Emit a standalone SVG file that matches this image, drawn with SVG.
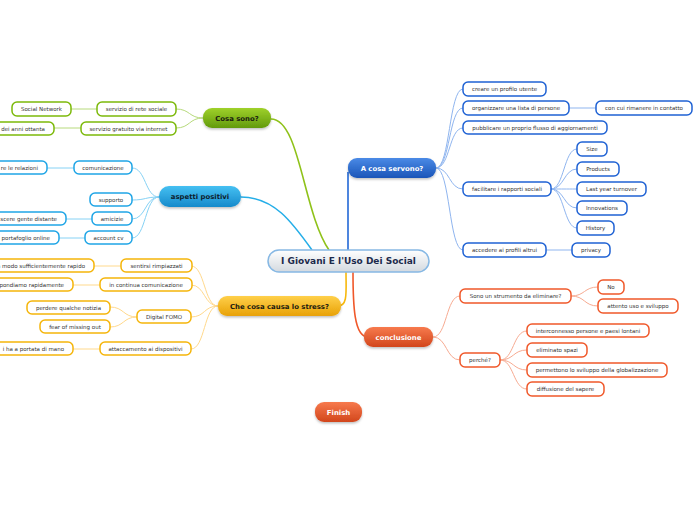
<svg xmlns="http://www.w3.org/2000/svg" width="696" height="520" viewBox="0 0 696 520">
<defs>
<linearGradient id="gC" x1="0" y1="0" x2="0" y2="1"><stop offset="0" stop-color="#ffffff"/><stop offset="1" stop-color="#d3d9df"/></linearGradient>
<linearGradient id="gG" x1="0" y1="0" x2="0" y2="1"><stop offset="0" stop-color="#9fd12a"/><stop offset="1" stop-color="#629a0c"/></linearGradient>
<linearGradient id="gB" x1="0" y1="0" x2="0" y2="1"><stop offset="0" stop-color="#45c0f2"/><stop offset="1" stop-color="#168acb"/></linearGradient>
<linearGradient id="gO" x1="0" y1="0" x2="0" y2="1"><stop offset="0" stop-color="#ffd04a"/><stop offset="1" stop-color="#e8a106"/></linearGradient>
<linearGradient id="gD" x1="0" y1="0" x2="0" y2="1"><stop offset="0" stop-color="#4a8ae6"/><stop offset="1" stop-color="#1a55b8"/></linearGradient>
<linearGradient id="gR" x1="0" y1="0" x2="0" y2="1"><stop offset="0" stop-color="#f77a4e"/><stop offset="1" stop-color="#d2461c"/></linearGradient>
<filter id="sh" x="-20%" y="-30%" width="140%" height="170%"><feDropShadow dx="0" dy="1.5" stdDeviation="1.2" flood-color="#000" flood-opacity="0.25"/></filter>
</defs>
<style>
text{font-family:"DejaVu Sans","Verdana",sans-serif;}
.t{font-size:5.5px;fill:#333;text-anchor:middle;}
.te{font-size:5.5px;fill:#333;text-anchor:end;}
.m{font-size:6.9px;font-weight:bold;text-anchor:middle;}
.dk{fill:#1a1a10;}
.wh{fill:#ffffff;}
.leaf{fill:#ffffff;stroke-width:1.5;}
.lg{stroke:#7cb90a;}
.lb{stroke:#1fa5e6;}
.lo{stroke:#f5b50a;}
.ld{stroke:#1f62d4;}
.lr{stroke:#f0582a;}
.c{fill:none;stroke-width:1;}
.cg{stroke:#b7da7c;}
.cb{stroke:#86d2f5;}
.co{stroke:#ffd98c;}
.cd{stroke:#8fb5ef;}
.cr{stroke:#f7ab92;}
</style>

<g id="connectors">
  <path d="M271,119 C300,119 303,212 329,250" fill="none" stroke="#8fc21a" stroke-width="1.6"/>
  <path d="M241,197 C274,197 292,222 312,250" fill="none" stroke="#25aee8" stroke-width="1.6"/>
  <path d="M348,250 L348,172" fill="none" stroke="#2268d6" stroke-width="1.6"/>
  <path d="M346,272 C346,292 348,306 338,306" fill="none" stroke="#f7b80c" stroke-width="1.6"/>
  <path d="M353,272 C353,305 354,337 368,337" fill="none" stroke="#f0582a" stroke-width="1.6"/>

  <path class="c cg" d="M203,118 C189,118 190,109 176,109"/>
  <path class="c cg" d="M203,118 C189,118 190,128 176,128"/>
  <path class="c cg" d="M97,109 L71,109"/>
  <path class="c cg" d="M81,128 L54,128"/>

  <path class="c cb" d="M159,197 C145,197 146,168 132,168"/>
  <path class="c cb" d="M159,197 C145,197 146,200 132,200"/>
  <path class="c cb" d="M159,197 C145,197 146,219 132,219"/>
  <path class="c cb" d="M159,197 C145,197 146,238 132,238"/>
  <path class="c cb" d="M74,168 L47,168"/>
  <path class="c cb" d="M92,219 L66,219"/>
  <path class="c cb" d="M85,238 L59,238"/>

  <path class="c co" d="M218,306 C204,306 205,266 191,266"/>
  <path class="c co" d="M218,306 C204,306 205,285 191,285"/>
  <path class="c co" d="M218,306 C204,306 205,317 191,317"/>
  <path class="c co" d="M218,306 C204,306 205,349 191,349"/>
  <path class="c co" d="M121,266 L94,266"/>
  <path class="c co" d="M100,285 L73,285"/>
  <path class="c co" d="M100,349 L73,349"/>
  <path class="c co" d="M137,317 C123,317 124,307 110,307"/>
  <path class="c co" d="M137,317 C123,317 124,327 110,327"/>

  <path class="c cd" d="M436,168 C450,168 449,89 463,89"/>
  <path class="c cd" d="M436,168 C450,168 449,108 463,108"/>
  <path class="c cd" d="M436,168 C450,168 449,128 463,128"/>
  <path class="c cd" d="M436,168 C450,168 449,189 463,189"/>
  <path class="c cd" d="M436,168 C450,168 449,250 463,250"/>
  <path class="c cd" d="M569,108 L596,108"/>
  <path class="c cd" d="M546,250 L572,250"/>
  <path class="c cd" d="M551,189 C564,189 564,149 577,149"/>
  <path class="c cd" d="M551,189 C564,189 564,169 577,169"/>
  <path class="c cd" d="M551,189 C564,189 564,189 577,189"/>
  <path class="c cd" d="M551,189 C564,189 564,208 577,208"/>
  <path class="c cd" d="M551,189 C564,189 564,228 577,228"/>

  <path class="c cr" d="M433,337 C447,337 446,296 460,296"/>
  <path class="c cr" d="M433,337 C447,337 446,360 460,360"/>
  <path class="c cr" d="M571,296 C585,296 584,287 598,287"/>
  <path class="c cr" d="M571,296 C585,296 584,306 598,306"/>
  <path class="c cr" d="M500,360 C514,360 513,331 527,331"/>
  <path class="c cr" d="M500,360 C514,360 513,350 527,350"/>
  <path class="c cr" d="M500,360 C514,360 513,370 527,370"/>
  <path class="c cr" d="M500,360 C514,360 513,389 527,389"/>
</g>

<g id="central"><rect x="268" y="250" width="161" height="22" rx="11" fill="url(#gC)" stroke="#86b8e4" stroke-width="1.5"/><text x="348.5" y="264.2" style="font-size:9px;font-weight:bold;fill:#1c2a4c;text-anchor:middle">I Giovani E l'Uso Dei Social</text></g>

<g id="cosa-sono"><rect x="203" y="108" width="68" height="20" rx="9" fill="url(#gG)" filter="url(#sh)"/><text class="m dk" x="237" y="120.5">Cosa sono?</text></g>
<g id="aspetti-positivi"><rect x="159" y="186" width="82" height="21" rx="10" fill="url(#gB)" filter="url(#sh)"/><text class="m" x="200" y="199" fill="#0c1c2c">aspetti positivi</text></g>
<g id="stress"><rect x="218" y="296" width="123" height="20" rx="9" fill="url(#gO)" filter="url(#sh)"/><text class="m dk" x="279.5" y="308.5">Che cosa causa lo stress?</text></g>
<g id="a-cosa-servono"><rect x="348" y="158" width="88" height="20" rx="9" fill="url(#gD)" filter="url(#sh)"/><text class="m wh" x="392" y="170.5">A cosa servono?</text></g>
<g id="conclusione"><rect x="364" y="327" width="69" height="20" rx="9" fill="url(#gR)" filter="url(#sh)"/><text class="m wh" x="398.5" y="339.5">conclusione</text></g>
<g id="finish"><rect x="315" y="402" width="47" height="20" rx="9" fill="url(#gR)" filter="url(#sh)"/><text class="m wh" x="338.5" y="414.5">Finish</text></g>

<g id="n-rete-sociale"><rect class="leaf lg" x="97" y="102" width="79" height="14" rx="5"/><text class="t" x="136.5" y="111">servizio di rete sociale</text></g>
<g id="n-social-network"><rect class="leaf lg" x="12" y="102" width="59" height="14" rx="5"/><text class="t" x="41.5" y="111">Social Network</text></g>
<g id="n-gratuito"><rect class="leaf lg" x="81" y="122" width="95" height="13" rx="5"/><text class="t" x="128.5" y="130.5">servizio gratuito via internet</text></g>
<g id="n-ottanta"><rect class="leaf lg" x="-30" y="122" width="84" height="13" rx="5"/><text class="te" x="45" y="130.5">dei anni ottanta</text></g>

<g id="n-comunicazione"><rect class="leaf lb" x="74" y="161" width="58" height="13" rx="5"/><text class="t" x="103" y="169.5">comunicazione</text></g>
<g id="n-relazioni"><rect class="leaf lb" x="-40" y="161" width="87" height="13" rx="5"/><text class="te" x="38" y="169.5">re le relazioni</text></g>
<g id="n-supporto"><rect class="leaf lb" x="90" y="193" width="42" height="13" rx="5"/><text class="t" x="111" y="201.5">supporto</text></g>
<g id="n-amicizie"><rect class="leaf lb" x="92" y="212" width="40" height="13" rx="5"/><text class="t" x="112" y="220.5">amicizie</text></g>
<g id="n-distante"><rect class="leaf lb" x="-40" y="212" width="106" height="13" rx="5"/><text class="te" x="57" y="220.5">scere gente distante</text></g>
<g id="n-account"><rect class="leaf lb" x="85" y="231" width="47" height="13" rx="5"/><text class="t" x="108.5" y="239.5">account cv</text></g>
<g id="n-portafoglio"><rect class="leaf lb" x="-40" y="231" width="99" height="13" rx="5"/><text class="te" x="50" y="239.5">portafoglio online</text></g>

<g id="n-rimpiazzati"><rect class="leaf lo" x="121" y="259" width="71" height="13" rx="5"/><text class="t" x="156.5" y="267.5">sentirsi rimpiazzati</text></g>
<g id="n-rapido"><rect class="leaf lo" x="-40" y="259" width="134" height="13" rx="5"/><text class="te" x="85" y="267.5">a modo sufficientemente rapido</text></g>
<g id="n-continua"><rect class="leaf lo" x="100" y="278" width="92" height="13" rx="5"/><text class="t" x="146" y="286.5">in continua comunicazione</text></g>
<g id="n-rapidamente"><rect class="leaf lo" x="-40" y="278" width="113" height="13" rx="5"/><text class="te" x="64" y="286.5">spondiamo rapidamente</text></g>
<g id="n-fomo"><rect class="leaf lo" x="137" y="310" width="54" height="13" rx="5"/><text class="t" x="164" y="318.5">Digital FOMO</text></g>
<g id="n-notizia"><rect class="leaf lo" x="27" y="301" width="83" height="13" rx="5"/><text class="t" x="68.5" y="309.5">perdere qualche notizia</text></g>
<g id="n-fear"><rect class="leaf lo" x="40" y="320" width="70" height="13" rx="5"/><text class="t" x="75" y="328.5">fear of missing out</text></g>
<g id="n-attaccamento"><rect class="leaf lo" x="100" y="342" width="91" height="13" rx="5"/><text class="t" x="145.5" y="350.5">attaccamento ai dispositivi</text></g>
<g id="n-portata"><rect class="leaf lo" x="-40" y="342" width="113" height="13" rx="5"/><text class="te" x="64" y="350.5">i ha a portata di mano</text></g>

<g id="n-profilo"><rect class="leaf ld" x="463" y="82" width="83" height="14" rx="5"/><text class="t" x="504.5" y="91">creare un profilo utente</text></g>
<g id="n-lista"><rect class="leaf ld" x="463" y="101" width="106" height="14" rx="5"/><text class="t" x="516" y="110">organizzare una lista di persone</text></g>
<g id="n-contatto"><rect class="leaf ld" x="596" y="101" width="96" height="14" rx="5"/><text class="t" x="644" y="110">con cui rimanere in contatto</text></g>
<g id="n-flusso"><rect class="leaf ld" x="463" y="121" width="144" height="13" rx="5"/><text class="t" x="535" y="129.5">pubblicare un proprio flusso di aggiornamenti</text></g>
<g id="n-facilitare"><rect class="leaf ld" x="463" y="182" width="88" height="14" rx="5"/><text class="t" x="507" y="191">facilitare i rapporti sociali</text></g>
<g id="n-size"><rect class="leaf ld" x="577" y="142" width="30" height="14" rx="5"/><text class="t" x="592" y="151">Size</text></g>
<g id="n-products"><rect class="leaf ld" x="577" y="162" width="42" height="14" rx="5"/><text class="t" x="598" y="171">Products</text></g>
<g id="n-turnover"><rect class="leaf ld" x="577" y="182" width="69" height="14" rx="5"/><text class="t" x="611.5" y="191">Last year turnover</text></g>
<g id="n-innovations"><rect class="leaf ld" x="577" y="201" width="50" height="14" rx="5"/><text class="t" x="602" y="210">Innovations</text></g>
<g id="n-history"><rect class="leaf ld" x="577" y="221" width="37" height="14" rx="5"/><text class="t" x="595.5" y="230">History</text></g>
<g id="n-accedere"><rect class="leaf ld" x="463" y="243" width="83" height="14" rx="5"/><text class="t" x="504.5" y="252">accedere ai profili altrui</text></g>
<g id="n-privacy"><rect class="leaf ld" x="572" y="243" width="38" height="14" rx="5"/><text class="t" x="591" y="252">privacy</text></g>

<g id="n-eliminare"><rect class="leaf lr" x="460" y="289" width="111" height="14" rx="5"/><text class="t" x="515.5" y="298">Sono un strumento da eliminare?</text></g>
<g id="n-no"><rect class="leaf lr" x="598" y="280" width="26" height="14" rx="5"/><text class="t" x="611" y="289">No</text></g>
<g id="n-attento"><rect class="leaf lr" x="598" y="299" width="80" height="14" rx="5"/><text class="t" x="638" y="308">attento uso e sviluppo</text></g>
<g id="n-perche"><rect class="leaf lr" x="460" y="353" width="40" height="14" rx="5"/><text class="t" x="480" y="362">perché?</text></g>
<g id="n-interconnesso"><rect class="leaf lr" x="527" y="324" width="122" height="13" rx="5"/><text class="t" x="588" y="332.5">interconnesso persone e paesi lontani</text></g>
<g id="n-spazi"><rect class="leaf lr" x="527" y="343" width="60" height="14" rx="5"/><text class="t" x="557" y="352">eliminato spazi</text></g>
<g id="n-globalizzazione"><rect class="leaf lr" x="527" y="363" width="140" height="14" rx="5"/><text class="t" x="597" y="372">permettono lo sviluppo della globalizzazione</text></g>
<g id="n-sapere"><rect class="leaf lr" x="527" y="382" width="77" height="14" rx="5"/><text class="t" x="565.5" y="391">diffusione del sapere</text></g>
</svg>
